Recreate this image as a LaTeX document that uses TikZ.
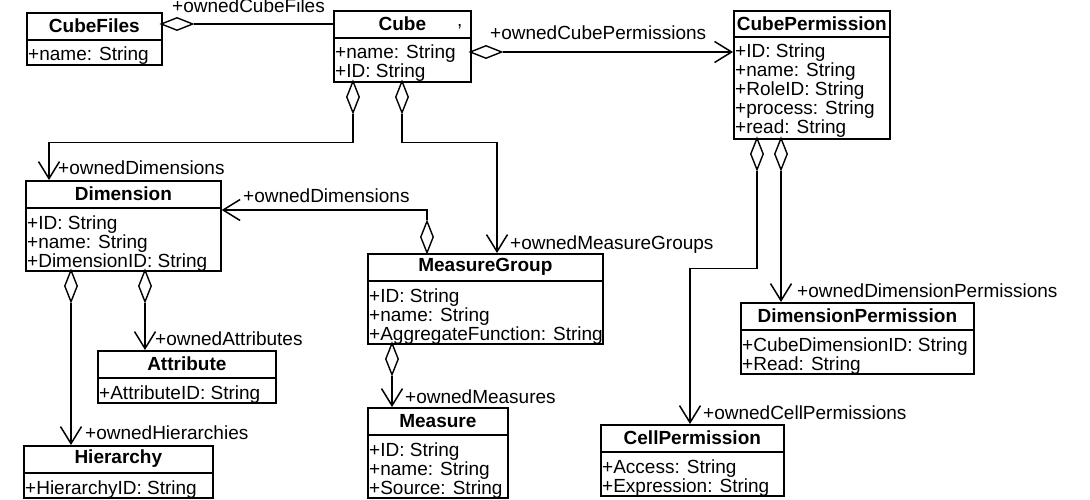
\documentclass[tikz,border=0pt]{standalone}
\usepackage{fontspec}
\setmainfont{Liberation Sans}
\usetikzlibrary{arrows.meta,shapes.geometric}
\begin{document}
\begin{tikzpicture}[x=1pt,y=-1pt,
  cls/.style={draw, line width=1.7pt, inner sep=0pt, anchor=north west},
  sep/.style={line width=1.7pt},
  ttl/.style={font=\fontsize{19}{20}\selectfont\bfseries, inner sep=0pt},
  attr/.style={font=\fontsize{19}{20}\selectfont, anchor=base west, inner sep=0pt, xshift=2pt},
  lbl/.style={font=\fontsize{19}{20}\selectfont, anchor=base west, inner sep=0pt},
  aggv/.style={diamond, draw, line width=1.4pt, fill=white, inner sep=0pt, minimum width=13pt, minimum height=32pt},
  aggh/.style={diamond, draw, line width=1.4pt, fill=white, inner sep=0pt, minimum width=32pt, minimum height=13pt},
  link/.style={line width=1.3pt},
  own/.style={link, -{Straight Barb[length=17pt,width=21pt,line width=1.5pt]}}
]
\useasboundingbox (0,0) rectangle (1090,500);

% ---------- classes ----------
% CubeFiles
\node[cls, minimum width=135pt, minimum height=52pt] (cubefiles) at (26,12) {};
\draw[sep] (cubefiles.west |- 0,40) -- (cubefiles.east |- 0,40);
\node[ttl] (cubefilesT) at (cubefiles.north |- 0,26) {CubeFiles};
\node[attr] (cubefilesA1) at (cubefiles.west |- 0,61) {+name: String};

% Cube
\node[cls, minimum width=137pt, minimum height=71pt] (cube) at (333,10) {};
\draw[sep] (cube.west |- 0,38) -- (cube.east |- 0,38);
\node[ttl] (cubeT) at (cube.north |- 0,24) {Cube};
\node[attr] (cubemark) at (455,27) {,};
\node[attr] (cubeA1) at (cube.west |- 0,59) {+name: String};
\node[attr] (cubeA2) at (cube.west |- 0,78) {+ID: String};

% CubePermission
\node[cls, minimum width=156pt, minimum height=128pt] (cubeperm) at (733,10) {};
\draw[sep] (cubeperm.west |- 0,37) -- (cubeperm.east |- 0,37);
\node[ttl] (cubepermT) at (cubeperm.north |- 0,23.5) {CubePermission};
\node[attr] (cubepermA1) at (cubeperm.west |- 0,58) {+ID: String};
\node[attr] (cubepermA2) at (cubeperm.west |- 0,77) {+name: String};
\node[attr] (cubepermA3) at (cubeperm.west |- 0,96) {+RoleID: String};
\node[attr] (cubepermA4) at (cubeperm.west |- 0,115) {+process: String};
\node[attr] (cubepermA5) at (cubeperm.west |- 0,134) {+read: String};

% Dimension
\node[cls, minimum width=195pt, minimum height=90pt] (dimension) at (25,180) {};
\draw[sep] (dimension.west |- 0,208) -- (dimension.east |- 0,208);
\node[ttl] (dimensionT) at (dimension.north |- 0,194) {Dimension};
\node[attr] (dimensionA1) at (dimension.west |- 0,229) {+ID: String};
\node[attr] (dimensionA2) at (dimension.west |- 0,248) {+name: String};
\node[attr] (dimensionA3) at (dimension.west |- 0,267) {+DimensionID: String};

% MeasureGroup
\node[cls, minimum width=235pt, minimum height=90pt] (measuregroup) at (367,253) {};
\draw[sep] (measuregroup.west |- 0,281) -- (measuregroup.east |- 0,281);
\node[ttl] (measuregroupT) at (measuregroup.north |- 0,267) {MeasureGroup};
\node[attr] (measuregroupA1) at (measuregroup.west |- 0,302) {+ID: String};
\node[attr] (measuregroupA2) at (measuregroup.west |- 0,321) {+name: String};
\node[attr] (measuregroupA3) at (measuregroup.west |- 0,340) {+AggregateFunction: String};

% Attribute
\node[cls, minimum width=178pt, minimum height=52pt] (attribute) at (97,350) {};
\draw[sep] (attribute.west |- 0,378) -- (attribute.east |- 0,378);
\node[ttl] (attributeT) at (attribute.north |- 0,364) {Attribute};
\node[attr] (attributeA1) at (attribute.west |- 0,399) {+AttributeID: String};

% Hierarchy
\node[cls, minimum width=189pt, minimum height=52pt] (hierarchy) at (23,445) {};
\draw[sep] (hierarchy.west |- 0,473) -- (hierarchy.east |- 0,473);
\node[ttl] (hierarchyT) at (hierarchy.north |- 0,459) {Hierarchy};
\node[attr] (hierarchyA1) at (hierarchy.west |- 0,494) {+HierarchyID: String};

% Measure
\node[cls, minimum width=140pt, minimum height=90pt] (measure) at (367,407) {};
\draw[sep] (measure.west |- 0,435) -- (measure.east |- 0,435);
\node[ttl] (measureT) at (measure.north |- 0,421) {Measure};
\node[attr] (measureA1) at (measure.west |- 0,456) {+ID: String};
\node[attr] (measureA2) at (measure.west |- 0,475) {+name: String};
\node[attr] (measureA3) at (measure.west |- 0,494) {+Source: String};

% DimensionPermission
\node[cls, minimum width=233pt, minimum height=71pt] (dimperm) at (740,302) {};
\draw[sep] (dimperm.west |- 0,330) -- (dimperm.east |- 0,330);
\node[ttl] (dimpermT) at (dimperm.north |- 0,316) {DimensionPermission};
\node[attr] (dimpermA1) at (dimperm.west |- 0,351) {+CubeDimensionID: String};
\node[attr] (dimpermA2) at (dimperm.west |- 0,370) {+Read: String};

% CellPermission
\node[cls, minimum width=183pt, minimum height=71pt] (cellperm) at (600,424) {};
\draw[sep] (cellperm.west |- 0,452) -- (cellperm.east |- 0,452);
\node[ttl] (cellpermT) at (cellperm.north |- 0,438) {CellPermission};
\node[attr] (cellpermA1) at (cellperm.west |- 0,473) {+Access: String};
\node[attr] (cellpermA2) at (cellperm.west |- 0,492) {+Expression: String};

% ---------- aggregation diamonds ----------
\node[aggh] (dCF) at (177,24) {};
\node[aggh] (dCP) at (486,52) {};
\node[aggv] (dCD) at (353,97) {};
\node[aggv] (dCM) at (402,97) {};
\node[aggv] (dMD) at (427,237) {};
\node[aggv] (dDH) at (71,286) {};
\node[aggv] (dDA) at (145,286) {};
\node[aggv] (dMM) at (392,359) {};
\node[aggv] (dPC) at (757,154) {};
\node[aggv] (dPD) at (781,154) {};

% ---------- connectors ----------
\draw[link] (dCF.east) -- (dCF.east -| cube.west);
\draw[own] (dCP.east) -- (dCP.east -| cubeperm.west);
\draw[own] (dCD.south) -- ++(0,29) -| (dimension.north -| 49,0);
\draw[own] (dCM.south) -- ++(0,29) -| (measuregroup.north -| 497,0);
\draw[own] (dMD.north) |- (dimension.east |- 0,210);
\draw[own] (dDH.south) -- (dDH.south |- hierarchy.north);
\draw[own] (dDA.south) -- (dDA.south |- attribute.north);
\draw[own] (dMM.south) -- (dMM.south |- measure.north);
\draw[own] (dPD.south) -- (dPD.south |- dimperm.north);
\draw[own] (dPC.south) -- ++(0,98) -| (cellperm.north -| 690,0);

% ---------- role names ----------
\node[lbl] (lCF) at (172,13) {+ownedCubeFiles};
\node[lbl] (lCP) at (490,40) {+ownedCubePermissions};
\node[lbl] (lCD) at (58,175) {+ownedDimensions};
\node[lbl] (lCM) at (510,249) {+ownedMeasureGroups};
\node[lbl] (lMD) at (243,203) {+ownedDimensions};
\node[lbl] (lDH) at (85,439) {+ownedHierarchies};
\node[lbl] (lDA) at (155,345) {+ownedAttributes};
\node[lbl] (lMM) at (405,403) {+ownedMeasures};
\node[lbl] (lPD) at (797,297) {+ownedDimensionPermissions};
\node[lbl] (lPC) at (703,419) {+ownedCellPermissions};
\end{tikzpicture}
\end{document}
